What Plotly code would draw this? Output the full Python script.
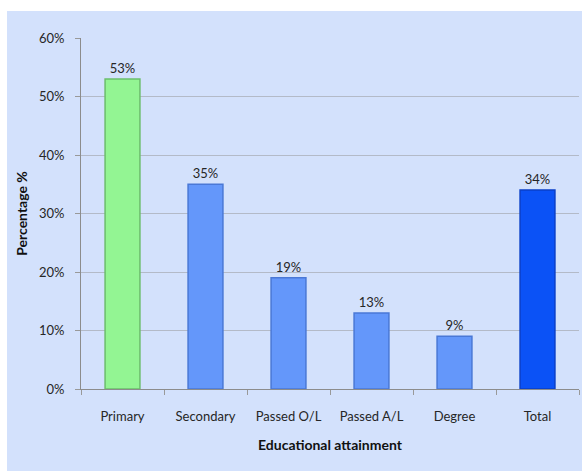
import plotly.graph_objects as go

# Share of each education group, in percent
categories = ["Primary", "Secondary", "Passed O/L", "Passed A/L", "Degree", "Total"]
values = [53, 35, 19, 13, 9, 34]
fill_colors = ["#93F593", "#6497FA", "#6497FA", "#6497FA", "#6497FA", "#0B52F6"]
edge_colors = ["#6CBE6C", "#4A78D6", "#4A78D6", "#4A78D6", "#4A78D6", "#0A3FC8"]
value_labels = [f"{v}%" for v in values]

W, H = 582, 471
ml, mr, mt, mb = 81, 3, 38, 82
pw, ph = W - ml - mr, H - mt - mb

FONT = "Lato, 'Open Sans', sans-serif"

fig = go.Figure(
    go.Bar(
        x=categories,
        y=values,
        width=0.42,
        marker=dict(color=fill_colors, line=dict(color=edge_colors, width=1.5)),
        text=value_labels,
        textposition="outside",
        textfont=dict(family=FONT, size=13, color="#262626"),
        cliponaxis=False,
        hoverinfo="skip",
    )
)

# Light-blue chart panel behind everything
fig.add_shape(
    type="rect", xref="paper", yref="paper", layer="below",
    x0=(7 - ml) / pw, x1=(W - ml) / pw + 0.01,
    y0=-mb / ph - 0.01, y1=(ph + mt - 11) / ph,
    fillcolor="#D3E1FC", line=dict(width=0),
)

fig.update_layout(
    width=W, height=H,
    margin=dict(l=ml, r=mr, t=mt, b=mb),
    paper_bgcolor="white",
    plot_bgcolor="rgba(0,0,0,0)",
    showlegend=False,
    font=dict(family=FONT, size=13, color="#262626"),
    xaxis=dict(
        type="category",
        tickson="boundaries",
        ticks="outside", ticklen=5, tickcolor="#999999",
        ticklabelstandoff=15,
        showline=True, linecolor="#8C8C8C", linewidth=1,
        showgrid=False,
        tickfont=dict(family=FONT, size=13, color="#262626"),
        title=dict(text="<b>Educational attainment</b>", standoff=17,
                   font=dict(family=FONT, size=14, color="#111111")),
    ),
    yaxis=dict(
        range=[0, 60], dtick=10, ticksuffix="%",
        ticks="outside", ticklen=5, tickcolor="#999999",
        ticklabelstandoff=8,
        showline=True, linecolor="#8C8C8C", linewidth=1,
        showgrid=True, gridcolor="#B3BAC8", gridwidth=1,
        zeroline=False,
        tickfont=dict(family=FONT, size=13, color="#262626"),
        title=dict(text="<b>Percentage %</b>", standoff=8,
                   font=dict(family=FONT, size=14, color="#111111")),
    ),
)

fig.write_html("out.html")
